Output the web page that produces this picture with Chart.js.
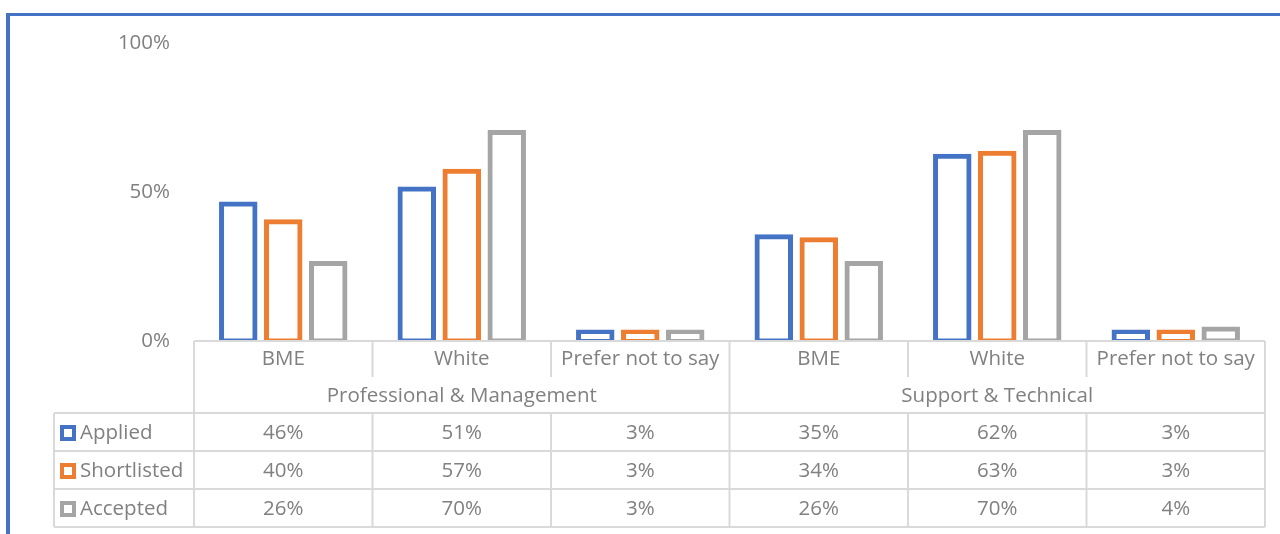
<!DOCTYPE html>
<html>
<head>
<meta charset="utf-8">
<script src="https://cdn.jsdelivr.net/npm/chart.js@4/dist/chart.umd.min.js"></script>
<style>
  html, body { margin: 0; padding: 0; background: #fff; }
  #wrap { position: relative; width: 1280px; height: 534px; overflow: hidden; }
  #frame { position: absolute; left: 6px; top: 13px; right: -10px; bottom: -10px;
           border-top: 3px solid #4472C4; border-left: 4px solid #4472C4; pointer-events: none; }
  canvas { position: absolute; left: 0; top: 0; }
</style>
</head>
<body>
<div id="wrap">
  <canvas id="chart" width="1280" height="534"></canvas>
  <div id="frame"></div>
</div>
<script>
const categories = ["BME", "White", "Prefer not to say", "BME", "White", "Prefer not to say"];
const groups = ["Professional & Management", "Support & Technical"];
const seriesNames = ["Applied", "Shortlisted", "Accepted"];
const applied = [46, 51, 3, 35, 62, 3];
const shortlisted = [40, 57, 3, 34, 63, 3];
const accepted = [26, 70, 3, 26, 70, 4];
const yTicks = [0, 50, 100];

const colors = ["#4472C4", "#ED7D31", "#A5A5A5"];
const textColor = "#808080";
const lineColor = "#D9D9D9";
const fontFamily = "'Open Sans', sans-serif";
const fontSize = 20.5;

// table layout (rows below the plot)
const rowCat = [341, 377];
const rowGroup = [377, 413];
const dataRows = [[413, 451], [451, 489], [489, 527]];
const tableLeft = 54;

const tablePlugin = {
  id: "dataTable",
  afterDraw(chart) {
    const ctx = chart.ctx;
    const x = chart.scales.x;
    const area = chart.chartArea;
    const n = categories.length;
    const step = (area.right - area.left) / n;
    const edge = (i) => area.left + step * i;

    ctx.save();
    ctx.strokeStyle = lineColor;
    ctx.lineWidth = 2;
    const line = (x1, y1, x2, y2) => {
      ctx.beginPath(); ctx.moveTo(x1, y1); ctx.lineTo(x2, y2); ctx.stroke();
    };

    // axis line and horizontal table lines
    line(area.left, rowCat[0], area.right, rowCat[0]);
    line(tableLeft, rowGroup[1], area.right, rowGroup[1]);
    dataRows.forEach(r => line(tableLeft, r[1], area.right, r[1]));

    // vertical lines
    for (let i = 0; i <= n; i++) {
      const px = edge(i);
      if (i === 0 || i === n || i === n / 2) {
        line(px, rowCat[0], px, dataRows[2][1]);
      } else {
        line(px, rowCat[0], px, rowCat[1]);
        line(px, dataRows[0][0], px, dataRows[2][1]);
      }
    }
    line(tableLeft, dataRows[0][0], tableLeft, dataRows[2][1]);

    ctx.fillStyle = textColor;
    ctx.font = fontSize + "px " + fontFamily;
    ctx.textAlign = "center";
    ctx.textBaseline = "middle";

    categories.forEach((c, i) => {
      ctx.fillText(c, x.getPixelForValue(i), (rowCat[0] + rowCat[1]) / 2);
    });
    groups.forEach((g, gi) => {
      const cx = (edge(gi * 3) + edge(gi * 3 + 3)) / 2;
      ctx.fillText(g, cx, (rowGroup[0] + rowGroup[1]) / 2 + 1);
    });

    const all = [applied, shortlisted, accepted];
    all.forEach((vals, si) => {
      const cy = (dataRows[si][0] + dataRows[si][1]) / 2 + 1;
      ctx.textAlign = "center";
      ctx.fillStyle = textColor;
      vals.forEach((v, i) => ctx.fillText(v + "%", x.getPixelForValue(i), cy));
      // legend key
      ctx.fillStyle = colors[si];
      ctx.fillRect(60, cy - 8, 16, 16);
      ctx.fillStyle = "#fff";
      ctx.fillRect(64, cy - 4, 8, 8);
      ctx.fillStyle = textColor;
      ctx.textAlign = "left";
      ctx.fillText(seriesNames[si], 80, cy);
    });
    ctx.restore();
  }
};

new Chart(document.getElementById("chart"), {
  type: "bar",
  data: {
    labels: categories,
    datasets: [applied, shortlisted, accepted].map((d, i) => ({
      label: seriesNames[i],
      data: d,
      backgroundColor: "#ffffff",
      borderColor: colors[i],
      borderWidth: 5,
      borderSkipped: false,
      inflateAmount: 2.5,
      categoryPercentage: 0.756,
      barPercentage: 0.744
    }))
  },
  options: {
    responsive: false,
    animation: false,
    layout: { padding: { top: 43, right: 15, bottom: 534 - 341, left: 0 } },
    plugins: { legend: { display: false }, tooltip: { enabled: false } },
    scales: {
      x: { display: false },
      y: {
        min: 0,
        max: 100,
        afterBuildTicks: (scale) => { scale.ticks = yTicks.map(v => ({ value: v })); },
        afterFit: (scale) => { scale.width = 194; },
        border: { display: false },
        grid: { display: false, drawTicks: false },
        ticks: {
          padding: 24,
          color: textColor,
          font: { family: fontFamily, size: fontSize },
          callback: (v) => v + "%"
        }
      }
    }
  },
  plugins: [tablePlugin]
});
</script>
</body>
</html>
